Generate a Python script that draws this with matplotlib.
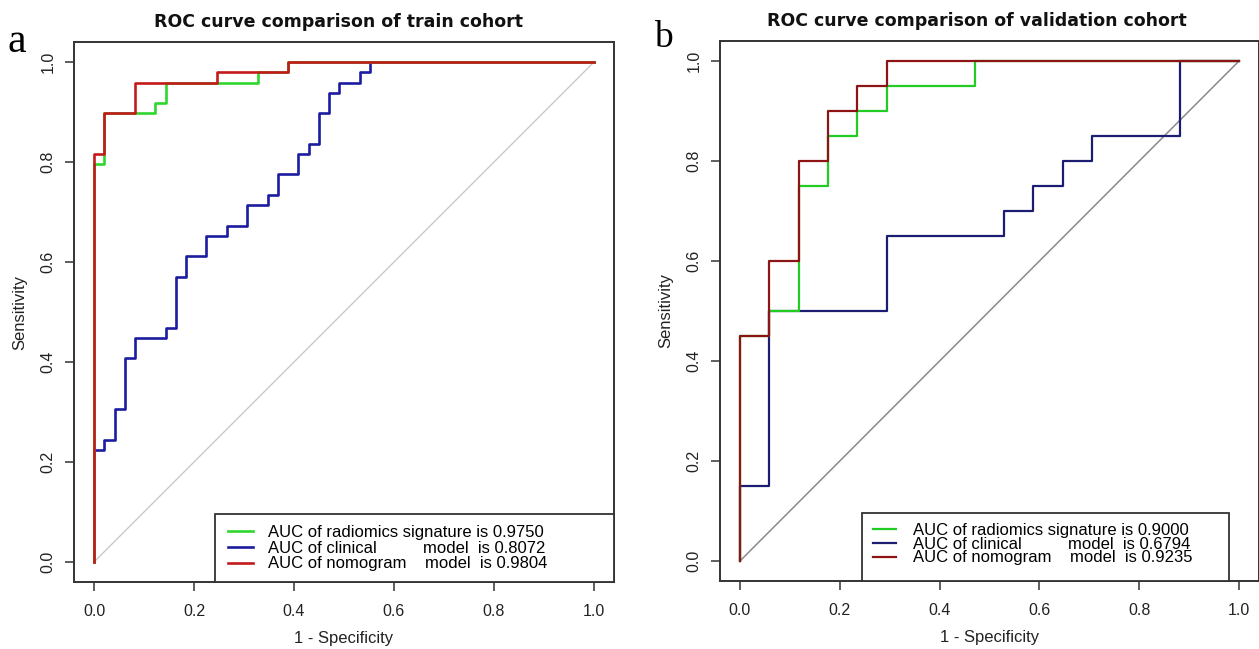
import matplotlib
matplotlib.use("Agg")
import matplotlib.pyplot as plt
from matplotlib.patches import Rectangle

# ROC vertices (1 - specificity, sensitivity)
train_rad_fpr = [0, 0, 0.020, 0.020, 0.122, 0.122, 0.143, 0.143, 0.327, 0.327, 0.388, 0.388, 1]
train_rad_tpr = [0, 0.796, 0.796, 0.898, 0.898, 0.918, 0.918, 0.959, 0.959, 0.980, 0.980, 1.0, 1.0]

train_cli_fpr = [0, 0, 0.020, 0.020, 0.041, 0.041, 0.061, 0.061, 0.082, 0.082, 0.143, 0.143,
                 0.163, 0.163, 0.184, 0.184, 0.224, 0.224, 0.265, 0.265, 0.306, 0.306, 0.347,
                 0.347, 0.367, 0.367, 0.408, 0.408, 0.429, 0.429, 0.449, 0.449, 0.469, 0.469,
                 0.490, 0.490, 0.531, 0.531, 0.551, 0.551, 1]
train_cli_tpr = [0, 0.224, 0.224, 0.245, 0.245, 0.306, 0.306, 0.408, 0.408, 0.449, 0.449, 0.469,
                 0.469, 0.571, 0.571, 0.612, 0.612, 0.653, 0.653, 0.673, 0.673, 0.714, 0.714,
                 0.735, 0.735, 0.776, 0.776, 0.816, 0.816, 0.837, 0.837, 0.898, 0.898, 0.939,
                 0.939, 0.959, 0.959, 0.980, 0.980, 1.0, 1.0]

train_nom_fpr = [0, 0, 0.020, 0.020, 0.082, 0.082, 0.245, 0.245, 0.388, 0.388, 1]
train_nom_tpr = [0, 0.816, 0.816, 0.898, 0.898, 0.959, 0.959, 0.980, 0.980, 1.0, 1.0]

val_rad_fpr = [0, 0, 0.059, 0.059, 0.118, 0.118, 0.176, 0.176, 0.235, 0.235, 0.294, 0.294, 0.471, 0.471, 1]
val_rad_tpr = [0, 0.45, 0.45, 0.50, 0.50, 0.75, 0.75, 0.85, 0.85, 0.90, 0.90, 0.95, 0.95, 1.0, 1.0]

val_cli_fpr = [0, 0, 0.059, 0.059, 0.294, 0.294, 0.529, 0.529, 0.588, 0.588, 0.647, 0.647,
               0.706, 0.706, 0.882, 0.882, 1]
val_cli_tpr = [0, 0.15, 0.15, 0.50, 0.50, 0.65, 0.65, 0.70, 0.70, 0.75, 0.75, 0.80, 0.80,
               0.85, 0.85, 1.0, 1.0]

val_nom_fpr = [0, 0, 0.059, 0.059, 0.118, 0.118, 0.176, 0.176, 0.235, 0.235, 0.294, 0.294, 1]
val_nom_tpr = [0, 0.45, 0.45, 0.60, 0.60, 0.80, 0.80, 0.90, 0.90, 0.95, 0.95, 1.0, 1.0]

train_labels = ["AUC of radiomics signature is 0.9750",
                "AUC of clinical          model  is 0.8072",
                "AUC of nomogram    model  is 0.9804"]
val_labels = ["AUC of radiomics signature is 0.9000",
              "AUC of clinical          model  is 0.6794",
              "AUC of nomogram    model  is 0.9235"]

ticks = [0.0, 0.2, 0.4, 0.6, 0.8, 1.0]

plt.rcParams["font.family"] = ["Liberation Sans", "DejaVu Sans"]

W, H = 1259, 649
fig = plt.figure(figsize=(W / 100, H / 100), dpi=100)
ax1 = fig.add_axes([74 / W, 1 - 582 / H, 540 / W, 540 / H])
ax2 = fig.add_axes([720 / W, 1 - 581 / H, 539 / W, 540 / H])


def style_axes(ax, title, title_x):
    ax.set_xlim(-0.04, 1.04)
    ax.set_ylim(-0.04, 1.04)
    ax.set_xticks(ticks)
    ax.set_yticks(ticks)
    ax.set_xticklabels([f"{t:.1f}" for t in ticks])
    ax.set_yticklabels([f"{t:.1f}" for t in ticks], rotation=90, va="center")
    ax.tick_params(direction="out", length=6.5, width=1.1, color="#333333",
                   labelsize=11.5, labelcolor="#222222")
    ax.tick_params(axis="x", pad=9)
    ax.tick_params(axis="y", pad=7)
    for s in ax.spines.values():
        s.set_color("#333333")
        s.set_linewidth(1.4)
    ax.set_xlabel("1 - Specificity", fontsize=12, labelpad=9, color="#222222")
    ax.set_ylabel("Sensitivity", fontsize=12, labelpad=9, color="#222222")
    ax.set_title(title, x=title_x, fontsize=12.5, fontweight="bold",
                 family="DejaVu Sans", pad=11, color="#111111")


# train cohort
ax = ax1
ax.plot([0, 1], [0, 1], color="#c8c8c8", lw=1.0, zorder=1)
h_cli, = ax.plot(train_cli_fpr, train_cli_tpr, color="#1c1ca0", lw=1.9, zorder=2)
h_rad, = ax.plot(train_rad_fpr, train_rad_tpr, color="#2ed62e", lw=1.9, zorder=3)
h_nom, = ax.plot(train_nom_fpr, train_nom_tpr, color="#c41a1a", lw=1.9, zorder=4)
style_axes(ax, "ROC curve comparison of train cohort", 0.49)
ax.add_patch(Rectangle((0.261, 0), 0.739, 0.126, transform=ax.transAxes,
                       facecolor="white", edgecolor="#333333", lw=1.3,
                       zorder=5, clip_on=False))
leg = ax.legend([h_rad, h_cli, h_nom], train_labels, loc="upper left",
                bbox_to_anchor=(0.285, 0.106), frameon=False, fontsize=12,
                borderpad=0, borderaxespad=0, handlelength=1.5,
                handletextpad=0.9, labelspacing=0.05)
leg.set_zorder(6)

# validation cohort
ax = ax2
ax.plot([0, 1], [0, 1], color="#8a8a8a", lw=1.1, zorder=1)
h_cli, = ax.plot(val_cli_fpr, val_cli_tpr, color="#1c1c72", lw=1.6, zorder=2)
h_rad, = ax.plot(val_rad_fpr, val_rad_tpr, color="#22cc22", lw=1.6, zorder=3)
h_nom, = ax.plot(val_nom_fpr, val_nom_tpr, color="#8c1414", lw=1.6, zorder=4)
style_axes(ax, "ROC curve comparison of validation cohort", 0.476)
ax.add_patch(Rectangle((0.263, 0), 0.681, 0.126, transform=ax.transAxes,
                       facecolor="white", edgecolor="#333333", lw=1.3,
                       zorder=5, clip_on=False))
leg = ax.legend([h_rad, h_cli, h_nom], val_labels, loc="upper left",
                bbox_to_anchor=(0.284, 0.108), frameon=False, fontsize=12,
                borderpad=0, borderaxespad=0, handlelength=1.35,
                handletextpad=1.05, labelspacing=-0.07)
leg.set_zorder(6)

# panel letters
fig.text(17 / W, 1 - 52 / H, "a", family="Liberation Serif", fontsize=30,
         ha="center", va="baseline")
fig.text(663 / W, 1 - 47 / H, "b", family="Liberation Serif", fontsize=27,
         ha="center", va="baseline")

fig.savefig("out.png", dpi=100)
